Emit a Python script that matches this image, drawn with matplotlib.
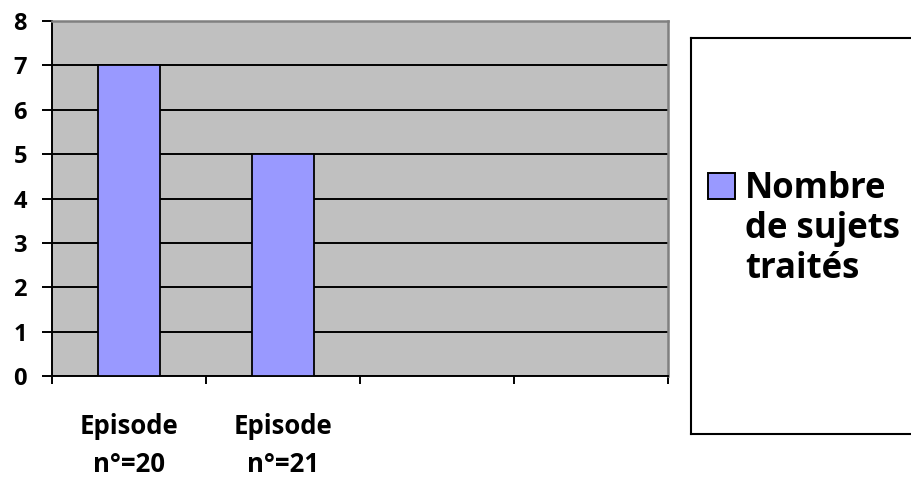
import numpy as np
import matplotlib

matplotlib.use("Agg")
import matplotlib.pyplot as plt
from matplotlib.patches import Rectangle

plt.rcParams["font.family"] = ["Open Sans", "DejaVu Sans"]
plt.rcParams["font.weight"] = "bold"

# --- donnees ---
categories = ["Episode\nn°=20", "Episode\nn°=21", "", ""]
valeurs = [7, 5, np.nan, np.nan]
serie = "Nombre\nde sujets\ntraités"
yticks = [0, 1, 2, 3, 4, 5, 6, 7, 8]

W, H = 912, 478
fig = plt.figure(figsize=(W / 100, H / 100), dpi=100)
ax = fig.add_axes([52 / W, 1 - 376 / H, 616 / W, 355 / H])
ax.set_facecolor("#C0C0C0")

x = np.arange(len(categories))
ax.bar(x, valeurs, width=0.4, color="#9999FF", edgecolor="black", linewidth=1.3, zorder=3)

ax.set_xlim(-0.5, len(categories) - 0.5)
ax.set_ylim(0, 8)
ax.set_yticks(yticks)
ax.set_yticklabels([str(v) for v in yticks], fontsize=17, fontweight="bold")
ax.grid(axis="y", color="black", linewidth=1.4, zorder=1)
ax.set_axisbelow(True)

# ticks
ax.tick_params(axis="y", direction="out", length=7, width=1.4, pad=11)
ax.set_xticks(x)
ax.set_xticklabels(categories, fontsize=18.5, fontweight="bold", linespacing=1.5)
ax.tick_params(axis="x", which="major", length=0, pad=27)
ax.set_xticks(np.arange(len(categories) + 1) - 0.5, minor=True)
ax.tick_params(axis="x", which="minor", direction="out", length=6, width=1.4)

for s in ["left", "bottom"]:
    ax.spines[s].set_color("black")
    ax.spines[s].set_linewidth(1.4)
for s in ["top", "right"]:
    ax.spines[s].set_color("#808080")
    ax.spines[s].set_linewidth(1.8)

# --- legende (cadre a droite, deborde a droite) ---
x0, x1, y0, y1 = 691, 940, 37.5, 434
lax = fig.add_axes([x0 / W, 1 - y1 / H, (x1 - x0) / W, (y1 - y0) / H])
lax.set_xticks([])
lax.set_yticks([])
for s in lax.spines.values():
    s.set_color("black")
    s.set_linewidth(1.5)
lax.set_xlim(x0, x1)
lax.set_ylim(y1, y0)
lax.add_patch(Rectangle((708, 173), 27, 26, facecolor="#9999FF",
                        edgecolor="black", linewidth=1.4))
lax.text(745, 171, serie, fontsize=25, fontweight="bold", va="top", ha="left",
         linespacing=1.15)

plt.savefig("out.png", dpi=100)
plt.close()
